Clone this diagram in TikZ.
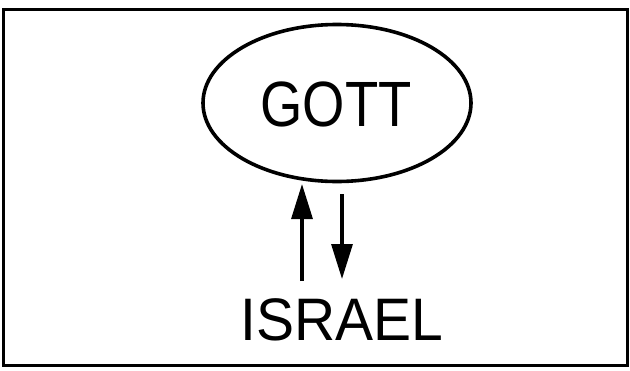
\documentclass[tikz,border=0pt]{standalone}
\usepackage{fontspec}
\setmainfont{Liberation Sans}
\usetikzlibrary{arrows.meta,shapes.geometric}
\begin{document}
\begin{tikzpicture}[x=1pt,y=-1pt,
  lbl/.style={inner sep=0pt,anchor=base},
  arr/.style={line width=3.2pt,-{Triangle[length=35pt,width=21pt]}}]
\useasboundingbox (0,0) rectangle (630,370);
\node[draw,line width=3pt,minimum width=624pt,minimum height=356pt,inner sep=0pt] (frame) at (315.5,187) {};
\node[draw,ellipse,line width=3.6pt,minimum width=268pt,minimum height=157pt,inner sep=0pt] (gott) at (337,103) {};
\node[lbl,font=\fontsize{64}{64}\selectfont] (gottlbl) at (336,126) {\scalebox{0.85}[1]{GOTT}};
\node[lbl,font=\fontsize{60}{60}\selectfont] (israel) at (342,340) {\scalebox{0.95}[1]{ISRAEL}};
\coordinate (upS) at (302,281);
\coordinate (upE) at (302,184);
\coordinate (dnS) at (342,194);
\coordinate (dnE) at (342,279);
\draw[arr] (upS) -- (upE);
\draw[arr] (dnS) -- (dnE);
\end{tikzpicture}
\end{document}
